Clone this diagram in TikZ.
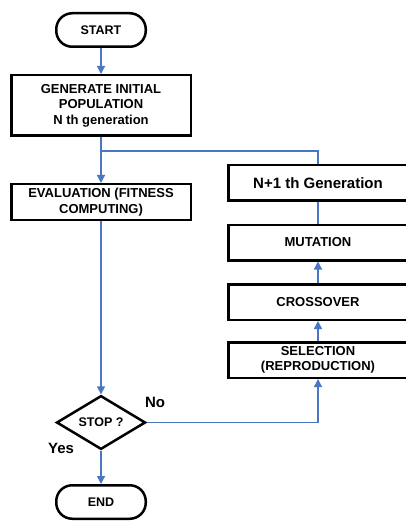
\documentclass[tikz,border=0pt]{standalone}
\usepackage{fontspec}
\setmainfont{Liberation Sans}
\usetikzlibrary{positioning,shapes.geometric,arrows.meta}
\definecolor{flowblue}{RGB}{74,118,196}

\begin{document}
\begin{tikzpicture}[x=1pt,y=-1pt,
  box/.style={draw,line width=2.5pt,minimum width=179.5pt,minimum height=35.5pt,inner sep=2pt,align=center,font=\bfseries\fontsize{13}{15.5}\selectfont},
  term/.style={draw,line width=2.5pt,rounded corners=16pt,minimum width=89.5pt,minimum height=33.5pt,font=\bfseries\fontsize{12.5}{15}\selectfont},
  decide/.style={draw,diamond,line width=2.5pt,inner sep=0pt,minimum width=89pt,minimum height=52pt,font=\bfseries\fontsize{12.5}{15}\selectfont},
  answer/.style={font=\bfseries\fontsize{15}{18}\selectfont},
  line/.style={draw=flowblue,line width=1.3pt},
  arr/.style={line,-{Triangle[length=8pt,width=8pt]}}]
\useasboundingbox (0,0) rectangle (406,521);
\node[term] (start) at (101,30) {START};
\node[box,minimum height=60.5pt] (gen) at (101,105.5) {GENERATE INITIAL\\POPULATION\\N th generation};
\node[box] (eval) at (101,202) {EVALUATION (FITNESS\\COMPUTING)};
\node[decide] (stop) at (101,422.5) {STOP ?};
\node[term] (end) at (101,502) {END};
\node[box,font=\bfseries\fontsize{15}{18}\selectfont] (next) at (318,183) {N+1 th Generation};
\node[box] (mut) at (318,242.5) {MUTATION};
\node[box] (cross) at (318,302) {CROSSOVER};
\node[box] (sel) at (318,360) {SELECTION\\(REPRODUCTION)};
\node[answer] (no) at (155,402) {No};
\node[answer] (yes) at (61,448) {Yes};
\coordinate (join) at (101,151);
% main path
\draw[arr] (start) -- (gen);
\draw[arr] (gen) -- (eval);
\draw[arr] (eval) -- (stop);
\draw[arr] (stop) -- (end);
% loop back
\draw[arr] (stop) -| (sel);
\draw[arr] (sel) -- (cross);
\draw[arr] (cross) -- (mut);
\draw[line] (mut) -- (next);
\draw[line] (next) |- (join);
\end{tikzpicture}
\end{document}
